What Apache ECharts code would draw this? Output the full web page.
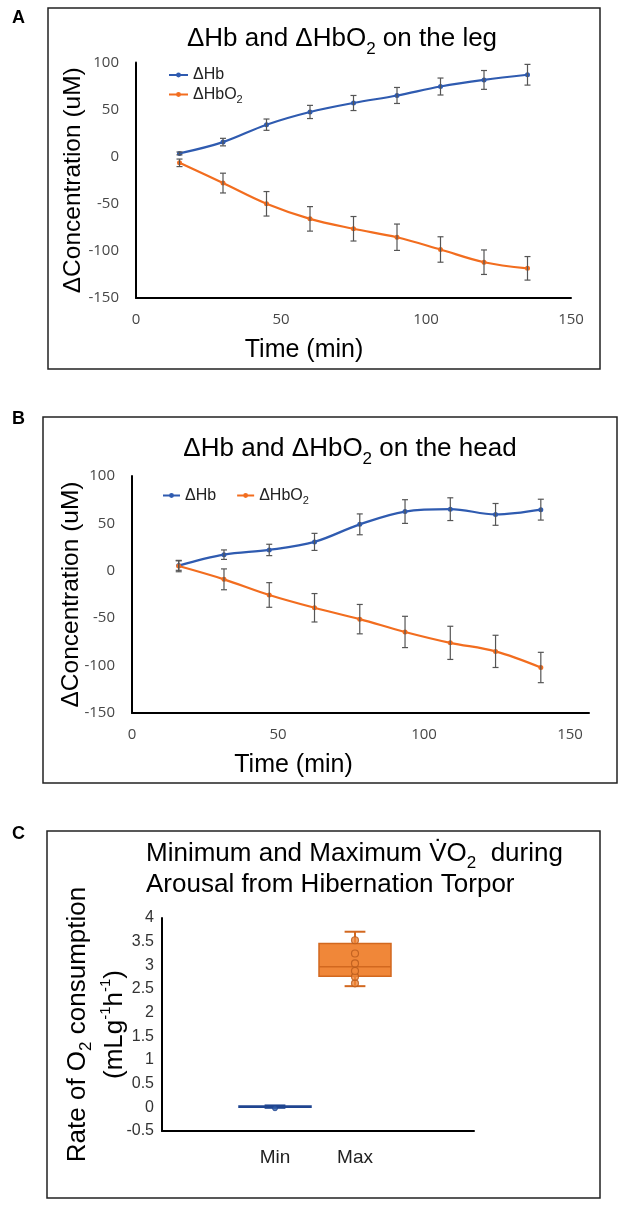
<!DOCTYPE html>
<html>
<head>
<meta charset="utf-8">
<script src="https://cdn.jsdelivr.net/npm/echarts/dist/echarts.min.js"></script>
<style>
    html, body { margin: 0; padding: 0; background: #fff; }
    #main { width: 624px; height: 1208px; }
</style>
</head>
<body>
<div id="main"></div>
<script>
    // A - leg
    var legTime = [15, 30, 45, 60, 75, 90, 105, 120, 135];
    var legHb = [3.5, 15.5, 34, 47.5, 57, 65, 74.5, 81.5, 87];
    var legHbErr = [1.5, 4, 6, 7, 8, 8.5, 9, 10, 11];
    var legHbO2 = [-6.5, -28, -50, -66, -76.5, -85.5, -98.5, -112, -118.5];
    var legHbO2Err = [4, 10.5, 13, 13, 13, 14, 13.5, 13, 12.5];

    // B - head
    var headTime = [16, 31.5, 47, 62.5, 78, 93.5, 109, 124.5, 140];
    var headHb = [5.5, 17, 22, 30.5, 49, 62.5, 65, 59.5, 64.5];
    var headHbErr = [5, 5, 6, 9, 11, 12.5, 12, 11.5, 11];
    var headHbO2 = [5, -9, -25.5, -39, -51, -64.5, -76, -85, -102];
    var headHbO2Err = [6, 11, 13, 15, 15.5, 16.5, 17.5, 17, 16];

    // C - VO2 box plot  [min, q1, median, q3, max]
    var boxCats = ['Min', 'Max'];
    var minStats = [-0.01, 0.0, 0.015, 0.03, 0.04];
    var maxStats = [2.56, 2.77, 2.97, 3.46, 3.71];
    var minPoints = [-0.02];
    var maxPoints = [2.62, 2.76, 2.88, 3.04, 3.25, 3.53];

    var concTicks = {min: -150, max: 100, interval: 50};
    var vo2Ticks = {min: -0.5, max: 4, interval: 0.5};

    var blue = '#2f5bb0';
    var orange = '#f26d1f';
    var tickFont = {fontFamily: 'Open Sans', fontSize: 15, color: '#474747'};
    var sans = 'Liberation Sans';

    function pairs(xs, ys) {
        return xs.map(function (x, i) { return [x, ys[i]]; });
    }
    function errRows(xs, ys, es) {
        return xs.map(function (x, i) { return [x, ys[i] - es[i], ys[i] + es[i]]; });
    }

    function renderErr(params, api) {
        var x = api.value(0);
        var lo = api.coord([x, api.value(1)]);
        var hi = api.coord([x, api.value(2)]);
        var w = 3;
        var st = {stroke: '#555', lineWidth: 1.2};
        return {
            type: 'group',
            children: [
                {type: 'line', shape: {x1: lo[0], y1: lo[1], x2: hi[0], y2: hi[1]}, style: st},
                {type: 'line', shape: {x1: lo[0] - w, y1: lo[1], x2: lo[0] + w, y2: lo[1]}, style: st},
                {type: 'line', shape: {x1: hi[0] - w, y1: hi[1], x2: hi[0] + w, y2: hi[1]}, style: st}
            ]
        };
    }

    function boxRenderer(fill, stroke) {
        return function (params, api) {
            var c = api.value(0);
            var p = [1, 2, 3, 4, 5].map(function (d) { return api.coord([c, api.value(d)]); });
            var band = api.size([1, 0])[0];
            var x = p[0][0];
            var half = band * 0.45;
            var cap = band * 0.13;
            var ln = {stroke: stroke, lineWidth: 2};
            return {
                type: 'group',
                children: [
                    {type: 'line', shape: {x1: x, y1: p[0][1], x2: x, y2: p[1][1]}, style: ln},
                    {type: 'line', shape: {x1: x, y1: p[3][1], x2: x, y2: p[4][1]}, style: ln},
                    {type: 'line', shape: {x1: x - cap, y1: p[0][1], x2: x + cap, y2: p[0][1]}, style: ln},
                    {type: 'line', shape: {x1: x - cap, y1: p[4][1], x2: x + cap, y2: p[4][1]}, style: ln},
                    {type: 'rect', shape: {x: x - half, y: p[3][1], width: half * 2, height: Math.max(p[1][1] - p[3][1], 1)},
                        style: {fill: fill, stroke: stroke, lineWidth: 1.5}},
                    {type: 'line', shape: {x1: x - half, y1: p[2][1], x2: x + half, y2: p[2][1]}, style: {stroke: stroke, lineWidth: 1.3}}
                ]
            };
        };
    }

    var subRich = {
        sub: {fontFamily: sans, fontSize: 17, lineHeight: 12, padding: [20, 0, 0, 0], color: '#000'}
    };
    var legendText = {
        fontFamily: sans, fontSize: 16, color: '#222',
        rich: {sub: {fontFamily: sans, fontSize: 11, lineHeight: 10, padding: [10, 0, 0, 0], color: '#222'}}
    };
    function legendFmt(name) {
        return name === 'ΔHbO2' ? 'ΔHbO{sub|2}' : name;
    }

    function lineSeries(name, color, xi, data) {
        return {
            name: name, type: 'line', xAxisIndex: xi, yAxisIndex: xi, data: data,
            smooth: 0.35, symbol: 'circle', symbolSize: 5, z: 3,
            lineStyle: {color: color, width: 2.2}, itemStyle: {color: color}
        };
    }
    function errSeries(xi, rows) {
        return {
            type: 'custom', xAxisIndex: xi, yAxisIndex: xi, data: rows, z: 4,
            encode: {x: 0, y: [1, 2]}, renderItem: renderErr, silent: true
        };
    }

    function concY(gi, gap) {
        return {
            gridIndex: gi, type: 'value', min: concTicks.min, max: concTicks.max, interval: concTicks.interval,
            axisLine: {show: true, onZero: false, lineStyle: {color: '#000', width: 2}},
            axisTick: {show: false}, splitLine: {show: false},
            axisLabel: Object.assign({margin: 17}, tickFont),
            name: 'ΔConcentration (uM)', nameLocation: 'middle', nameRotate: 90, nameGap: gap,
            nameMoveOverlap: false,
            nameTextStyle: {fontFamily: sans, fontSize: 24.5, color: '#000'}
        };
    }
    function timeX(gi, max, shift) {
        return {
            gridIndex: gi, type: 'value', min: 0, max: max, interval: 50,
            axisLine: {show: true, onZero: false, lineStyle: {color: '#000', width: 2}},
            axisTick: {show: false}, splitLine: {show: false},
            axisLabel: Object.assign({margin: 14, showMaxLabel: max === 150}, tickFont),
            name: 'Time (min)', nameLocation: 'middle', nameGap: 40, nameMoveOverlap: false,
            nameTextStyle: {fontFamily: sans, fontSize: 25, color: '#000', padding: [0, shift, 0, 0]}
        };
    }

    var myChart = echarts.init(document.getElementById('main'));
    var option = {
        backgroundColor: '#fff',
        animation: false,
        graphic: [
            {type: 'rect', shape: {x: 48, y: 8, width: 552, height: 361}, style: {fill: 'none', stroke: '#222', lineWidth: 1.5}},
            {type: 'rect', shape: {x: 43, y: 417, width: 574, height: 366}, style: {fill: 'none', stroke: '#222', lineWidth: 1.5}},
            {type: 'rect', shape: {x: 47, y: 831, width: 553, height: 367}, style: {fill: 'none', stroke: '#222', lineWidth: 1.5}}
        ],
        title: [
            {text: 'A', left: 12, top: 9, padding: 0, textStyle: {fontFamily: sans, fontSize: 18, fontWeight: 'bold', color: '#000'}},
            {text: 'B', left: 12, top: 410, padding: 0, textStyle: {fontFamily: sans, fontSize: 18, fontWeight: 'bold', color: '#000'}},
            {text: 'C', left: 12, top: 825, padding: 0, textStyle: {fontFamily: sans, fontSize: 18, fontWeight: 'bold', color: '#000'}},
            {text: 'ΔHb and ΔHbO{sub|2} on the leg', left: 342, top: 26, padding: 0, textAlign: 'center',
                textStyle: {fontFamily: sans, fontSize: 26, fontWeight: 'normal', color: '#000', rich: subRich}},
            {text: 'ΔHb and ΔHbO{sub|2} on the head', left: 350, top: 436, padding: 0, textAlign: 'center',
                textStyle: {fontFamily: sans, fontSize: 26, fontWeight: 'normal', color: '#000', rich: subRich}},
            {text: 'Minimum and Maximum V\u0307O{sub|2}  during\nArousal from Hibernation Torpor', left: 146, top: 838, padding: 0,
                textStyle: {fontFamily: sans, fontSize: 26, fontWeight: 'normal', color: '#000', lineHeight: 31, rich: subRich}}
        ],
        legend: [
            {data: ['ΔHb', 'ΔHbO2'], orient: 'vertical', left: 163, top: 62, itemWidth: 19, itemHeight: 6, itemGap: 1,
                formatter: legendFmt, textStyle: legendText},
            {data: ['ΔHb', 'ΔHbO2'], orient: 'horizontal', left: 157, top: 480, itemWidth: 17, itemHeight: 6, itemGap: 20,
                formatter: legendFmt, textStyle: legendText}
        ],
        grid: [
            {left: 136, top: 62.5, right: 53, height: 235.5},
            {left: 132, top: 476, right: 35, height: 237},
            {left: 162, top: 918, right: 150, bottom: 77},
            {left: 235, top: 918, width: 160, bottom: 77}
        ],
        xAxis: [
            timeX(0, 150, 99),
            timeX(1, 156.5, 134),
            {gridIndex: 2, type: 'value', min: 0, max: 1,
                axisLine: {show: true, onZero: false, lineStyle: {color: '#000', width: 2}},
                axisTick: {show: false}, axisLabel: {show: false}, splitLine: {show: false}},
            {gridIndex: 3, type: 'category', data: boxCats,
                axisLine: {show: false}, axisTick: {show: false},
                axisLabel: {margin: 17, fontFamily: sans, fontSize: 19, color: '#222'}}
        ],
        yAxis: [
            concY(0, 50),
            concY(1, 48),
            {gridIndex: 2, type: 'value', min: vo2Ticks.min, max: vo2Ticks.max, interval: vo2Ticks.interval,
                axisLine: {show: true, onZero: false, lineStyle: {color: '#000', width: 2}},
                axisTick: {show: false}, splitLine: {show: false},
                axisLabel: {margin: 8, fontFamily: sans, fontSize: 16, color: '#333'},
                name: 'Rate of O{sub|2} consumption\n(mLg{sup|-1}h{sup|-1})', nameLocation: 'middle', nameRotate: 90, nameGap: 29,
                nameMoveOverlap: false,
                nameTextStyle: {fontFamily: sans, fontSize: 26, color: '#000', lineHeight: 37,
                    rich: {
                        sub: {fontFamily: sans, fontSize: 17, lineHeight: 12, padding: [18, 0, 0, 0], color: '#000'},
                        sup: {fontFamily: sans, fontSize: 15, lineHeight: 12, padding: [0, 0, 18, 0], color: '#000'}
                    }}},
            {gridIndex: 3, type: 'value', min: vo2Ticks.min, max: vo2Ticks.max, interval: vo2Ticks.interval, show: false}
        ],
        series: [
            lineSeries('ΔHb', blue, 0, pairs(legTime, legHb)),
            lineSeries('ΔHbO2', orange, 0, pairs(legTime, legHbO2)),
            errSeries(0, errRows(legTime, legHb, legHbErr)),
            errSeries(0, errRows(legTime, legHbO2, legHbO2Err)),
            lineSeries('ΔHb', blue, 1, pairs(headTime, headHb)),
            lineSeries('ΔHbO2', orange, 1, pairs(headTime, headHbO2)),
            errSeries(1, errRows(headTime, headHb, headHbErr)),
            errSeries(1, errRows(headTime, headHbO2, headHbO2Err)),
            {type: 'custom', xAxisIndex: 3, yAxisIndex: 3, data: [[0].concat(minStats)],
                encode: {x: 0, y: [1, 2, 3, 4, 5]}, renderItem: boxRenderer('#2f5ca8', '#1f4590'), z: 2},
            {type: 'custom', xAxisIndex: 3, yAxisIndex: 3, data: [[1].concat(maxStats)],
                encode: {x: 0, y: [1, 2, 3, 4, 5]}, renderItem: boxRenderer('#f08739', '#d2681f'), z: 2},
            {type: 'scatter', xAxisIndex: 3, yAxisIndex: 3, z: 5, symbol: 'circle', symbolSize: 5,
                data: minPoints.map(function (v) { return [boxCats[0], v]; }),
                itemStyle: {color: '#2f5ca8', borderColor: '#1f4590', borderWidth: 1}},
            {type: 'scatter', xAxisIndex: 3, yAxisIndex: 3, z: 5, symbol: 'circle', symbolSize: 7,
                data: maxPoints.map(function (v) { return [boxCats[1], v]; }),
                itemStyle: {color: '#f08739', borderColor: '#b85a1c', borderWidth: 1.2}}
        ]
    };
    if (option && typeof option === "object") {
        myChart.setOption(option, true);
    }
</script>
</body>
</html>
